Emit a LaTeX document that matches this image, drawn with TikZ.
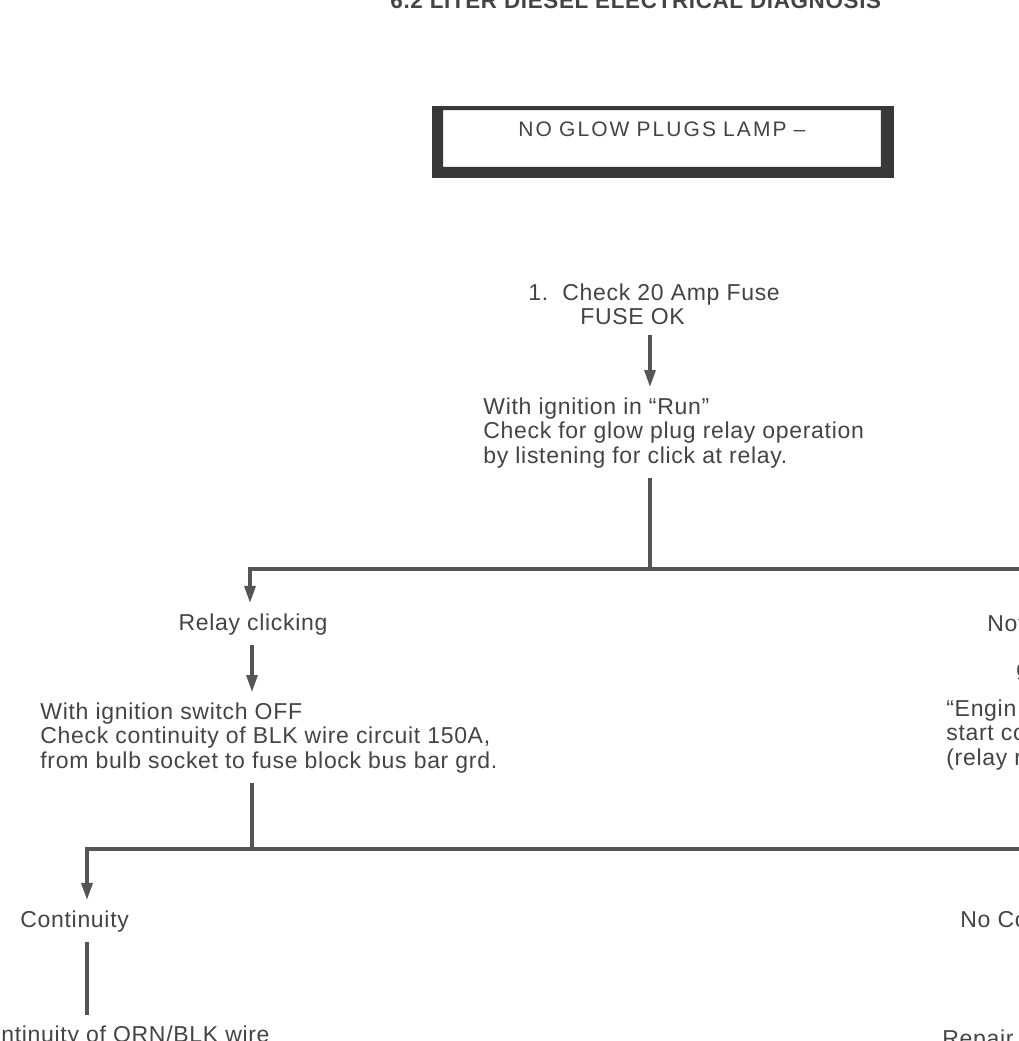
\documentclass[tikz,border=0pt]{standalone}
\usepackage{fontspec}
\setmainfont{Liberation Sans}[LetterSpace=3]
\newfontfamily\lampfont{Liberation Sans}[LetterSpace=10]
\usetikzlibrary{arrows.meta,positioning}
\definecolor{ink}{HTML}{444444}
\definecolor{wire}{HTML}{555555}
\definecolor{lampframe}{HTML}{383838}

\begin{document}
\begin{tikzpicture}[
  x=0.5pt, y=-0.5pt,
  font=\fontsize{11.5}{12.25}\selectfont,
  txt/.style={align=left,inner sep=5pt,text=ink},
  lampbox/.style={inner xsep=0pt,inner ysep=5.5pt,text width=218.5pt,align=center,text height=7.5pt,text depth=9.5pt,text=ink,font=\lampfont\fontsize{10.5}{12}\selectfont},
  ln/.style={line width=1.6pt,draw=wire},
  arr/.style={ln,-{Triangle[length=8.5pt,width=5.5pt]}},
]
\useasboundingbox (0,0) rectangle (1019,1041);
\clip (0,0) rectangle (1019,1041);
\fill[white] (0,0) rectangle (1019,1041);
% heading
\node[txt,anchor=base west,font=\bfseries\fontsize{11.2}{13}\selectfont] (title) at (380,8) {6.2 LITER DIESEL ELECTRICAL DIAGNOSIS};
\node[lampbox,anchor=north west] (lamp) at (443,110) {NO GLOW PLUGS LAMP –};
\fill[lampframe,even odd rule] ([shift={(-11,-4)}]lamp.north west) rectangle ([shift={(13,11)}]lamp.south east) (lamp.north west) rectangle (lamp.south east);
% step 1
\node[txt,anchor=north west] (fuse) at (518,273) {1.\ \ Check 20 Amp Fuse\\\hspace*{26pt}FUSE OK};
\node[txt,anchor=north west] (runchk) at (473,387) {With ignition in ``Run''\\ Check for glow plug relay operation\\ by listening for click at relay.};
\coordinate (sp1) at (650,569);
\coordinate (sp1L) at (250,569);
\coordinate (brR) at (1030,569);
% branches
\node[txt,anchor=base] (relay) at (253,630) {Relay clicking};
\node[txt,anchor=base west] (notclk) at (977,631) {Not};
\node[txt,anchor=base west] (glw) at (1006,676) {g};
\node[txt,anchor=north west] (eng) at (936,689) {``Engin\\ start co\\ (relay r};
\node[txt,anchor=north west] (offchk) at (30,692) {With ignition switch OFF\\ Check continuity of BLK wire circuit 150A,\\ from bulb socket to fuse block bus bar grd.};
\coordinate (sp2) at (252,849);
\coordinate (sp2L) at (87,849);
\coordinate (br2R) at (1030,849);
\node[txt,anchor=base west] (cont) at (10,927) {Continuity};
\node[txt,anchor=base west] (nocont) at (950,927) {No Co};
\node[txt,anchor=base west] (orn) at (-9,1042) {ntinuity of ORN/BLK wire};
\node[txt,anchor=base west] (repair) at (932,1046) {Repair};
% connectors
\draw[arr] (fuse.south -| sp1) -- (runchk.north -| sp1);
\draw[ln] (runchk.south -| sp1) -- (sp1);
\draw[arr] (brR) -- (sp1L) -- (sp1L |- relay.north);
\draw[arr] (relay.south -| sp2) -- (sp2 |- offchk.north);
\draw[ln] (offchk.south -| sp2) -- (sp2);
\draw[arr] (br2R) -- (sp2L) -- (sp2L |- cont.north);
\draw[ln] (cont.south -| sp2L) -- (orn.north -| sp2L);
\end{tikzpicture}
\end{document}
